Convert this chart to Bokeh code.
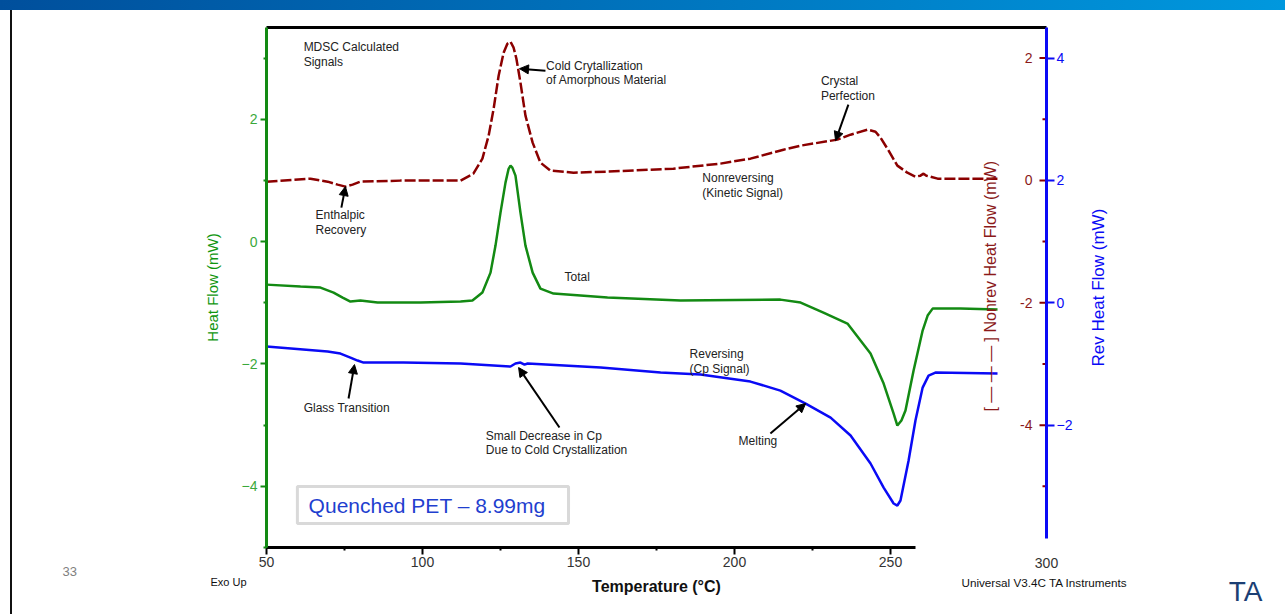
import math
from bokeh.plotting import figure
from bokeh.layouts import column, row
from bokeh.models import (Range1d, LinearAxis, FixedTicker, Label, Arrow,
                          NormalHead, BoxAnnotation, Title, Div, Spacer,
                          CustomJSTickFormatter)
from bokeh.core.properties import value
from bokeh.embed import file_html
from bokeh.resources import INLINE

FONT = "Liberation Sans"

# ---------------- data ----------------
# Total heat flow (left axis, mW)
total_t = [50.0, 60.9, 67.3, 71.5, 74.4, 76.9, 80.1, 85.6, 99.4, 112.2, 116.0,
           119.2, 121.8, 123.4, 125.0, 126.6, 127.6, 128.2, 128.8, 129.8, 131.4,
           133.0, 135.3, 137.8, 142.0, 159.3, 182.7, 214.7, 221.2, 228.5, 236.2,
           243.6, 247.8, 251.0, 252.2, 253.5, 254.8, 257.4, 260.3, 261.9, 263.5,
           272.4, 284.3]
total_hf = [-0.703, -0.735, -0.752, -0.833, -0.915, -0.980, -0.964, -0.997, -0.997,
            -0.980, -0.964, -0.833, -0.507, -0.065, 0.474, 0.964, 1.19, 1.242, 1.21,
            1.078, 0.474, -0.065, -0.507, -0.768, -0.850, -0.915, -0.964, -0.948,
            -0.997, -1.160, -1.340, -1.830, -2.320, -2.810, -3.007, -2.925, -2.761,
            -2.108, -1.454, -1.209, -1.095, -1.095, -1.111]

# Reversing heat flow (Rev axis, mW)
rev_t = [50.0, 69.6, 73.7, 76.9, 79.2, 81.1, 93.9, 112.2, 128.2, 129.8, 131.4,
         132.7, 133.7, 157.1, 176.3, 189.1, 205.1, 214.7, 222.8, 230.8, 237.2,
         243.6, 247.8, 251.0, 252.2, 253.2, 255.8, 258.0, 260.3, 262.2, 264.4,
         284.3]
rev_hf = [-0.716, -0.797, -0.830, -0.895, -0.944, -0.977, -0.977, -0.993, -1.042,
          -0.993, -0.977, -1.010, -0.993, -1.059, -1.141, -1.173, -1.288, -1.435,
          -1.647, -1.876, -2.170, -2.627, -3.020, -3.281, -3.314, -3.232, -2.578,
          -1.925, -1.386, -1.190, -1.141, -1.157]

# Nonreversing heat flow (Nonrev axis, mW)
nonrev_t = [50.0, 64.1, 69.6, 72.8, 75.3, 77.6, 80.1, 92.9, 112.2, 116.3, 119.2,
            121.2, 122.8, 124.4, 126.0, 127.2, 128.2, 129.2, 130.1, 131.4, 133.0,
            135.3, 137.8, 141.0, 148.4, 159.3, 180.4, 195.5, 205.1, 215.7, 221.2,
            233.0, 237.2, 242.6, 245.2, 246.8, 249.4, 252.2, 255.4, 258.0, 259.6,
            260.6, 261.5, 262.8, 265.1, 284.3]
nonrev_hf = [-0.020, 0.029, -0.020, -0.069, -0.101, -0.069, -0.020, -0.003, -0.003,
             0.111, 0.356, 0.732, 1.173, 1.712, 2.088, 2.235, 2.268, 2.170, 1.990,
             1.598, 1.059, 0.618, 0.291, 0.160, 0.127, 0.144, 0.193, 0.275, 0.356,
             0.503, 0.569, 0.667, 0.748, 0.830, 0.797, 0.699, 0.487, 0.242, 0.127,
             0.062, 0.078, 0.111, 0.078, 0.062, 0.029, 0.029]

# ticks
x_ticks = [50, 100, 150, 200, 250]
x_minor = [75, 125, 175, 225]
x_last_tick = [300]
left_ticks = [-4, -2, 0, 2]
left_minor = [-5, -3, -1, 1, 3]
rev_ticks = [-2, 0, 2, 4]
nonrev_ticks = [-4, -2, 0, 2]
nonrev_labels = ["-4", "-2", "0", "2"]
nonrev_minor = [-5, -3, -1, 1]

# annotation texts
notes_text = ["MDSC Calculated", "Signals", "Cold Crytallization",
              "of Amorphous Material", "Crystal", "Perfection", "Nonreversing",
              "(Kinetic Signal)", "Enthalpic", "Recovery", "Total",
              "Glass Transition", "Reversing", "(Cp Signal)",
              "Small Decrease in Cp", "Due to Cold Crystallization", "Melting"]
notes_x = [61.9, 61.9, 139.6, 139.6, 227.7, 227.7, 189.7, 189.7, 65.7, 65.7,
           145.5, 61.9, 185.6, 185.6, 120.3, 120.3, 201.3]
notes_y = [3.176, 2.931, 2.876, 2.647, 2.631, 2.386, 1.046, 0.801, 0.436, 0.191,
           -0.572, -2.720, -1.830, -2.075, -3.170, -3.405, -3.252]

# arrows: tail -> head
arrow_x0 = [139.4, 236.5, 74.0, 76.3, 143.9, 211.5]
arrow_y0 = [2.794, 2.239, 0.556, -2.565, -3.039, -3.137]
arrow_x1 = [131.1, 232.4, 75.3, 78.2, 130.8, 222.8]
arrow_y1 = [2.827, 1.650, 0.899, -2.010, -2.059, -2.647]

# ---------------- styling ----------------
GREEN = "#138a13"
GREEN_LBL = "#3aa83a"
RED = "#8b0000"
RED_LBL = "#8b1a1a"
BLUE = "#0a0af5"
TXT = "#222222"

x_start, x_end = 50, 300

p = figure(width=1265, height=596,
           x_range=Range1d(x_start, x_end), y_range=Range1d(-5, 3.5),
           output_backend="svg", toolbar_location=None,
           min_border_left=254, min_border_right=231,
           min_border_top=17, min_border_bottom=59, margin=0)
p.extra_y_ranges = {"nonrev": Range1d(-6, 2.5), "rev": Range1d(-4, 4.5)}
p.grid.visible = False
p.outline_line_color = None
p.background_fill_color = "white"
p.border_fill_color = "white"

# bottom axis (line ends before the last tick)
xa = p.xaxis[0]
xa.ticker = FixedTicker(ticks=x_ticks, minor_ticks=x_minor)
xa.bounds = (50, 258)
xa.axis_line_color = "black"
xa.axis_line_width = 3
xa.major_tick_line_color = "black"
xa.major_tick_line_width = 2
xa.major_tick_out = 7
xa.major_tick_in = 0
xa.minor_tick_line_color = "black"
xa.minor_tick_line_width = 2
xa.minor_tick_out = 3
xa.minor_tick_in = 0
xa.major_label_text_font = FONT
xa.major_label_text_font_size = "14px"
xa.major_label_text_color = "#333333"
xa.major_label_standoff = 2

# second bottom axis: the "300" label (no line, no tick) and the axis title
xa2 = LinearAxis(ticker=FixedTicker(ticks=x_last_tick, minor_ticks=[]),
                 axis_line_color=None, major_tick_line_color=None,
                 minor_tick_line_color=None, major_tick_out=0, major_tick_in=0,
                 minor_tick_out=0, minor_tick_in=0,
                 major_label_text_font=FONT, major_label_text_font_size="14px",
                 major_label_text_color="#333333", major_label_standoff=-12,
                 axis_label="Temperature (°C)", axis_label_text_font=FONT,
                 axis_label_text_font_size="16px",
                 axis_label_text_font_style="bold",
                 axis_label_text_color="#111111", axis_label_standoff=7)
p.add_layout(xa2, "below")

# left axis
ya = p.yaxis[0]
ya.ticker = FixedTicker(ticks=left_ticks, minor_ticks=left_minor)
ya.axis_line_color = GREEN
ya.axis_line_width = 3
ya.major_tick_line_color = GREEN
ya.major_tick_line_width = 2
ya.major_tick_out = 6
ya.major_tick_in = 0
ya.minor_tick_line_color = GREEN
ya.minor_tick_line_width = 2
ya.minor_tick_out = 3
ya.minor_tick_in = 0
ya.major_label_text_font = FONT
ya.major_label_text_font_size = "14px"
ya.major_label_text_color = GREEN_LBL
ya.major_label_standoff = 3
ya.axis_label = "Heat Flow (mW)"
ya.axis_label_text_font = FONT
ya.axis_label_text_font_size = "15px"
ya.axis_label_text_font_style = "normal"
ya.axis_label_text_color = "#0f960f"
ya.axis_label_standoff = 18

# top border as an axis line
top = LinearAxis(ticker=FixedTicker(ticks=[]), axis_line_color="black",
                 axis_line_width=3, major_tick_line_color=None,
                 minor_tick_line_color=None, major_label_text_font_size="0px")
p.add_layout(top, "above")

# right (Rev) axis
rev_axis = LinearAxis(y_range_name="rev",
                      ticker=FixedTicker(ticks=rev_ticks, minor_ticks=[]),
                      bounds=(-3.85, 4.5),
                      axis_line_color=BLUE, axis_line_width=3,
                      major_tick_line_color=BLUE, major_tick_line_width=2,
                      major_tick_out=8, major_tick_in=0,
                      minor_tick_line_color=None,
                      major_label_text_font=FONT, major_label_text_font_size="14px",
                      major_label_text_color=BLUE, major_label_standoff=2)
p.add_layout(rev_axis, "right")

# Rev axis title, reading bottom-to-top, starting at rev = -1.04
rev_title_at = [-1.04]
rev_title = LinearAxis(y_range_name="rev",
                       ticker=FixedTicker(ticks=rev_title_at, minor_ticks=[]),
                       formatter=CustomJSTickFormatter(
                           args=dict(t="Rev Heat Flow (mW)"), code="return t"),
                       major_label_orientation=math.pi / 2,
                       axis_line_color=None, major_tick_line_color=None,
                       minor_tick_line_color=None, major_tick_out=0,
                       major_tick_in=0, minor_tick_out=0, minor_tick_in=0,
                       major_label_standoff=23, major_label_text_font=FONT,
                       major_label_text_font_size="17px",
                       major_label_text_color=BLUE)
p.add_layout(rev_title, "right")

# curves
p.line(total_t, total_hf, line_color=GREEN, line_width=2.5)
p.line(rev_t, rev_hf, line_color=BLUE, line_width=2.5, y_range_name="rev")
p.line(nonrev_t, nonrev_hf, line_color=RED, line_width=2.5, line_dash="11 3",
       y_range_name="nonrev")

# Nonrev axis ticks and labels (drawn on the inner side of the right edge)
p.scatter(x=[x_end] * len(nonrev_ticks), y=nonrev_ticks, marker="dash", size=14,
          line_color=RED, line_width=2, y_range_name="nonrev")
p.scatter(x=[x_end] * len(nonrev_minor), y=nonrev_minor, marker="dash", size=8,
          line_color=RED, line_width=2, y_range_name="nonrev")
p.text(x=[x_end] * len(nonrev_ticks), y=nonrev_ticks, text=nonrev_labels,
       x_offset=-14, text_align="right", text_baseline="middle",
       text_font=value(FONT), text_font_size="14px", text_color=RED_LBL,
       y_range_name="nonrev")
p.add_layout(Label(x=282.1, y=-0.73, text="[ — — — ] Nonrev Heat Flow (mW)",
                   angle=math.pi / 2, text_align="center", text_baseline="middle",
                   text_font=FONT, text_font_size="16px", text_color=RED_LBL))

# annotation notes
p.text(x=notes_x, y=notes_y, text=notes_text, text_align="left",
       text_baseline="middle", text_font=value(FONT), text_font_size="12px",
       text_color=TXT)
for x0, y0, x1, y1 in zip(arrow_x0, arrow_y0, arrow_x1, arrow_y1):
    p.add_layout(Arrow(x_start=x0, y_start=y0, x_end=x1, y_end=y1,
                       line_color="black", line_width=2,
                       end=NormalHead(size=9, fill_color="black",
                                      line_color="black", line_width=1)))

# sample box
p.add_layout(BoxAnnotation(left=59.9, right=146.8, top=-4.003, bottom=-4.608,
                           fill_color="white", fill_alpha=1.0,
                           line_color="#808080", line_width=3))
p.add_layout(Label(x=63.5, y=-4.314, text="Quenched PET – 8.99mg",
                   text_align="left", text_baseline="middle", text_font=FONT,
                   text_font_size="21px", text_color="#1f3fcf"))


# slide footer texts (side-panel titles below the axes)
def footer(text, align, offset, standoff, size, color):
    return Title(text=text, align=align, offset=offset, standoff=standoff,
                 vertical_align="top", text_font=FONT, text_font_size=size,
                 text_font_style="normal", text_color=color)


p.add_layout(footer("Universal V3.4C TA Instruments", "right", -81, -43,
                    "11.7px", "#111111"), "below")
p.add_layout(footer("Exo Up", "left", -56, -43, "11px", "#111111"), "below")
p.add_layout(footer("33", "left", -204, -61, "13px", "#808080"), "below")
p.add_layout(footer("TA", "right", -216, -43, "28px", "#1c3f74"), "below")

# slide decoration: top gradient bar and the left edge line
bar = Div(text="", width=1285, height=10, margin=0,
          styles={"background": "linear-gradient(to right, #004f9c, #0098de)"})
gap = Spacer(width=10, height=604, margin=0)
edge = Div(text="", width=2, height=604, margin=0,
           styles={"background": "#111111"})
page = column(bar, row(gap, edge, p, spacing=0, margin=0), spacing=0, margin=0)

open("out.html", "w").write(file_html(page, INLINE))
